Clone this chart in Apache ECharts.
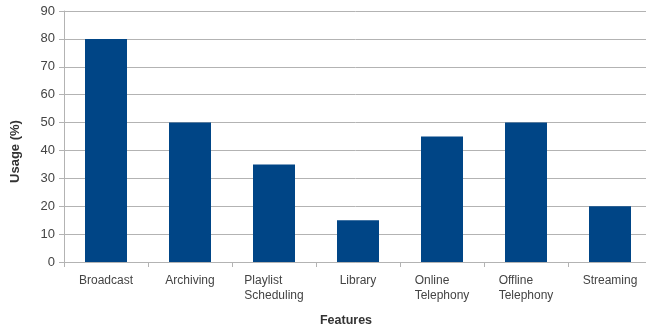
<!DOCTYPE html>
<html>
<head>
<meta charset="utf-8">
<script src="https://cdn.jsdelivr.net/npm/echarts@6/dist/echarts.min.js"></script>
<style>
  html, body { margin: 0; padding: 0; background: #ffffff; }
  #chart { width: 646px; height: 326px; }
</style>
</head>
<body>
<div id="chart"></div>
<script>
// Feature usage survey
const categories = ['Broadcast', 'Archiving', 'Playlist\nScheduling', 'Library', 'Online\nTelephony', 'Offline\nTelephony', 'Streaming'];
const usage = [80, 50, 35, 15, 45, 50, 20];
const yTicks = { min: 0, max: 90, interval: 10 };

const chart = echarts.init(document.getElementById('chart'), null, { renderer: 'canvas' });
const font = '"Liberation Sans", Arial, sans-serif';

chart.setOption({
  animation: false,
  grid: { left: 64, top: 11, width: 588, height: 251, containLabel: false, outerBoundsMode: 'none' },
  xAxis: {
    type: 'category',
    data: categories,
    name: 'Features',
    nameLocation: 'middle',
    nameGap: 52,
    nameTextStyle: { fontFamily: font, fontSize: 12.5, fontWeight: 'bold', color: '#333333', padding: [0, 24, 0, 0] },
    axisLine: { lineStyle: { color: '#b3b3b3' } },
    axisTick: { show: true, alignWithLabel: false, length: 5, lineStyle: { color: '#b3b3b3' } },
    axisLabel: {
      interval: 0,
      margin: 11,
      fontFamily: font,
      fontSize: 12,
      color: '#444444',
      lineHeight: 15,
      formatter: v => v.split('\n').map(s => '{l|' + s + '}').join('\n'),
      rich: { l: { align: 'left', fontFamily: font, fontSize: 12, color: '#444444', lineHeight: 15 } }
    }
  },
  yAxis: {
    type: 'value',
    min: yTicks.min,
    max: yTicks.max,
    interval: yTicks.interval,
    name: 'Usage (%)',
    nameLocation: 'middle',
    nameGap: 42,
    nameTextStyle: { fontFamily: font, fontSize: 13, fontWeight: 'bold', color: '#333333', padding: [0, 30, 0, 0] },
    axisLine: { show: true, lineStyle: { color: '#b3b3b3' } },
    axisTick: { show: true, length: 5, lineStyle: { color: '#b3b3b3' } },
    axisLabel: { margin: 9, fontFamily: font, fontSize: 13, color: '#444444' },
    splitLine: { lineStyle: { color: '#b3b3b3', width: 1 } }
  },
  series: [{
    type: 'bar',
    data: usage,
    barWidth: '50%',
    itemStyle: { color: '#004586' }
  }]
});
</script>
</body>
</html>
